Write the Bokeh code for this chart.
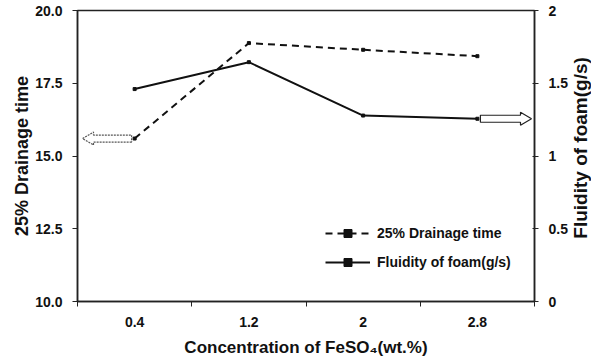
import math
from bokeh.plotting import figure
from bokeh.layouts import row
from bokeh.models import (Range1d, LinearAxis, FixedTicker, Legend, LegendItem,
                          ColumnDataSource)
from bokeh.core.properties import value
from bokeh.embed import file_html
from bokeh.resources import INLINE

conc_labels = ["0.4", "1.2", "2", "2.8"]
drainage = [15.6, 18.88, 18.65, 18.43]
fluidity = [1.46, 1.645, 1.278, 1.256]
left_ticks = [10.0, 12.5, 15.0, 17.5, 20.0]
right_ticks = [0, 0.5, 1, 1.5, 2]
right_title = "Fluidity of foam(g/s)"

FONT = "Liberation Sans"
xs = [i + 0.5 for i in range(len(conc_labels))]

p = figure(width=570, height=360, output_backend="svg", toolbar_location=None,
           x_range=Range1d(0, len(conc_labels)), y_range=Range1d(10, 20),
           min_border_left=77, min_border_right=36, min_border_top=10,
           min_border_bottom=59)
p.extra_y_ranges = {"right": Range1d(0, 2)}
p.grid.visible = False
p.outline_line_color = "#222222"
p.outline_line_width = 1.5
p.background_fill_color = "white"
p.border_fill_color = "white"

# x axis
xa = p.xaxis[0]
xa.ticker = FixedTicker(ticks=xs, minor_ticks=list(range(len(conc_labels) + 1)))
xa.major_label_overrides = {x: l for x, l in zip(xs, conc_labels)}
xa.axis_label = "Concentration of FeSO\u2084(wt.%)"

# left axis
ya = p.yaxis[0]
ya.ticker = FixedTicker(ticks=left_ticks)
ya.major_label_overrides = {t: f"{t:.1f}" for t in left_ticks}
ya.axis_label = "25% Drainage time"

# right axis
ra = LinearAxis(y_range_name="right", ticker=FixedTicker(ticks=right_ticks))
ra.major_label_overrides = {t: (str(t) if t != int(t) else str(int(t))) for t in right_ticks}
p.add_layout(ra, "right")

for ax in [xa, ya, ra]:
    ax.axis_line_color = "#222222"
    ax.axis_line_width = 1.5
    ax.major_tick_line_color = "#222222"
    ax.minor_tick_line_color = None
    ax.major_label_text_font = FONT
    ax.major_label_text_font_style = "bold"
    ax.major_label_text_font_size = "14px"
    ax.major_label_text_color = "#111111"
    ax.axis_label_text_font = FONT
    ax.axis_label_text_font_style = "bold"
    ax.axis_label_text_font_size = "18px"
    ax.axis_label_text_color = "#111111"

xa.major_tick_line_color = None
xa.minor_tick_line_color = "#222222"
xa.minor_tick_in = 0
xa.minor_tick_out = 5
xa.axis_label_text_font_size = "17px"
xa.major_label_standoff = 9
xa.axis_label_standoff = 8

ya.major_tick_in = 0
ya.major_tick_out = 5
ya.major_label_standoff = 10
ya.axis_label_standoff = 0

ra.major_tick_in = 2
ra.major_tick_out = 4
ra.major_label_standoff = 10

# arrows (block arrows computed from first/last data points)
px_x = len(conc_labels) / 457.0
px_l = 10.0 / 291.0
px_r = 2.0 / 291.0

def block_arrow(x_from, x_to, yc, unit):
    d = 1 if x_to > x_from else -1
    head = 11 * px_x
    xb = x_to - d * head
    bh, hh = 3.5 * unit, 6.5 * unit
    return ([x_from, xb, xb, x_to, xb, xb, x_from],
            [yc - bh, yc - bh, yc - hh, yc, yc + hh, yc + bh, yc + bh])

lx, ly = block_arrow(xs[0] - 3 * px_x, 5 * px_x, drainage[0], px_l)
p.patch(lx, ly, fill_color="white", line_color="#555555", line_width=1.2,
        line_dash="2 1")
rx, ry = block_arrow(xs[-1] + 3 * px_x, len(conc_labels) - 3 * px_x, fluidity[-1], px_r)
p.patch(rx, ry, fill_color="white", line_color="#222222", line_width=1.2,
        y_range_name="right")

# series
src_d = ColumnDataSource(dict(x=xs, y=drainage))
src_f = ColumnDataSource(dict(x=xs, y=fluidity))
l1 = p.line("x", "y", source=src_d, line_color="#111111", line_width=2,
            line_dash="7 5")
m1 = p.scatter("x", "y", source=src_d, size=3, marker="square",
               fill_color="#111111", line_color="#111111")
l2 = p.line("x", "y", source=src_f, line_color="#111111", line_width=2,
            y_range_name="right")
m2 = p.scatter("x", "y", source=src_f, size=3, marker="square",
               fill_color="#111111", line_color="#111111", y_range_name="right")

legend = Legend(items=[LegendItem(label="25% Drainage time", renderers=[l1, m1]),
                       LegendItem(label="Fluidity of foam(g/s)", renderers=[l2, m2])],
                location=(248, 29))
legend.border_line_color = None
legend.background_fill_alpha = 0
legend.glyph_width = 45
legend.glyph_height = 20
legend.spacing = 9
legend.padding = 0
legend.margin = 0
legend.label_standoff = 7
legend.label_text_font = FONT
legend.label_text_font_style = "bold"
legend.label_text_font_size = "14px"
legend.label_text_color = "#111111"
p.add_layout(legend, "center")

# narrow side panel carrying the right axis title (reads bottom to top)
p2 = figure(width=21, height=360, output_backend="svg", toolbar_location=None,
            x_range=Range1d(0, 21), y_range=Range1d(0, 360),
            x_axis_location=None, y_axis_location=None, min_border=0)
p2.grid.visible = False
p2.outline_line_color = None
p2.background_fill_color = "white"
p2.border_fill_color = "white"
p2.text(x=[10], y=[190], text=[right_title], angle=math.pi / 2,
        text_align="center", text_baseline="middle",
        text_font=value(FONT), text_font_style="bold", text_font_size="19px",
        text_color="#111111")

layout = row(p, p2, spacing=0)
open("out.html", "w").write(file_html(layout, INLINE))
